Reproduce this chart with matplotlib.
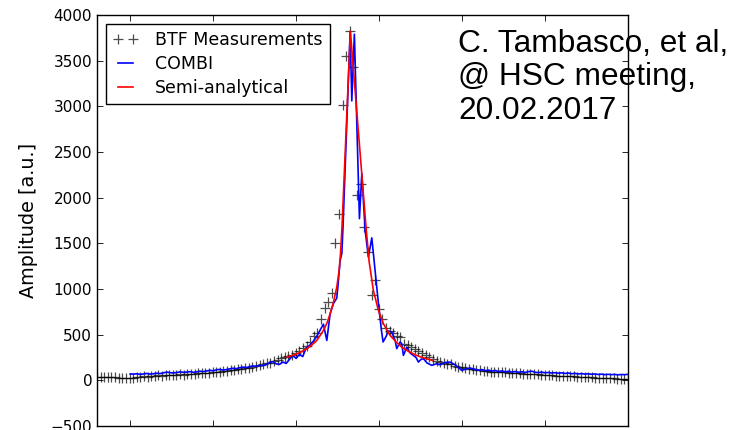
import numpy as np
import matplotlib
matplotlib.use("Agg")
import matplotlib.pyplot as plt

meas_x = np.linspace(-0.4, 6.0, 148)
meas_y = [36, 38, 35, 40, 37, 40, 25, 22, 25, 28,
          30, 40, 35, 45, 40, 50, 48, 55, 52, 58,
          55, 60, 62, 65, 63, 70, 68, 72, 75, 78,
          80, 85, 88, 90, 95, 100, 105, 110, 115, 120,
          128, 135, 140, 150, 158, 165, 175, 185, 195, 210,
          225, 245, 255, 265, 273, 295, 320, 350, 372, 419,
          481, 514, 667, 788, 853, 952, 1505, 1825, 3010, 3555,
          3820, 3430, 2025, 2145, 1680, 1400, 930, 1094, 777, 667,
          569, 540, 514, 490, 470, 400, 383, 365, 340, 320,
          298, 280, 255, 235, 210, 200, 190, 180, 175, 160,
          150, 145, 135, 128, 120, 115, 110, 104, 98, 95,
          93, 91, 88, 86, 84, 80, 78, 76, 73, 70,
          68, 66, 64, 62, 60, 55, 53, 50, 48, 46,
          45, 43, 42, 40, 38, 36, 34, 32, 30, 28,
          25, 24, 22, 21, 20, 18, 17, 15]

# COMBI simulation
combi_left_x = np.arange(0.0, 2.21, 0.04)
combi_left_y = [70, 68, 72, 65, 70, 75, 68, 72, 78, 74,
                82, 90, 84, 80, 86, 92, 88, 90, 95, 88,
                92, 100, 96, 102, 110, 104, 115, 120, 112, 118,
                126, 132, 128, 138, 145, 140, 150, 158, 152, 165,
                160, 172, 195, 205, 180, 175, 200, 185, 230, 270,
                240, 285, 260, 355, 380, 420]
combi_peak_x = [2.241, 2.289, 2.329, 2.370, 2.410, 2.449, 2.490, 2.506, 2.530, 2.551,
                2.566, 2.651, 2.671, 2.702, 2.763, 2.792, 2.831, 2.871, 2.912, 2.952,
                2.992, 3.028, 3.048, 3.084, 3.112, 3.153, 3.193, 3.213, 3.253, 3.273,
                3.293, 3.334, 3.373, 3.413, 3.446, 3.473, 3.506, 3.534, 3.578, 3.635,
                3.695, 3.735, 3.795, 3.855, 3.916, 3.996, 4.048, 4.096]
combi_peak_y = [470, 550, 615, 437, 730, 840, 900, 1050, 1310, 1390,
                1700, 3820, 3060, 3790, 1770, 2265, 1650, 1350, 1560, 1200,
                840, 547, 420, 480, 540, 528, 437, 347, 420, 401,
                273, 364, 300, 273, 250, 200, 230, 237, 190, 164,
                182, 170, 195, 200, 170, 109, 125, 135]
combi_right_x = np.arange(4.16, 6.001, 0.04)
combi_right_y = [120, 110, 118, 105, 112, 100, 108, 96, 104, 92,
                 100, 90, 97, 88, 94, 86, 95, 100, 88, 85,
                 90, 82, 86, 80, 84, 78, 82, 75, 80, 72,
                 76, 70, 74, 68, 72, 66, 70, 64, 68, 62,
                 66, 62, 65, 60, 64, 62, 66]

# semi-analytical curve
semi_x = [1.892, 1.964, 2.048, 2.129, 2.193, 2.249, 2.289, 2.329, 2.373, 2.410,
          2.449, 2.490, 2.518, 2.536, 2.554, 2.654, 2.843, 2.880, 2.931, 2.992,
          3.052, 3.133, 3.205, 3.277, 3.349, 3.434, 3.518, 3.639]
semi_y = [255, 275, 305, 347, 390, 437, 490, 547, 630, 730,
          850, 1021, 1200, 1400, 1700, 3820, 1670, 1300, 985, 766,
          620, 492, 420, 360, 320, 280, 250, 219]

combi_x = np.concatenate([combi_left_x, combi_peak_x, combi_right_x])
combi_y = np.concatenate([combi_left_y, combi_peak_y, combi_right_y])

plt.rcParams['font.family'] = ['DejaVu Sans']
fig = plt.figure(figsize=(7.42, 4.30), dpi=100)
ax = fig.add_axes([97 / 742, 1 - 426 / 430, 531 / 742, 411 / 430])

ax.plot(meas_x, meas_y, '+', color='k', alpha=0.7, markersize=7,
        markeredgewidth=0.9, label='BTF Measurements')
ax.plot(combi_x, combi_y, '-', color='#0000ff', lw=1.2, label='COMBI')
ax.plot(semi_x, semi_y, '-', color='#ff0000', lw=1.2, label='Semi-analytical')

ax.set_xlim(-0.4, 6.0)
ax.set_ylim(-500, 4000)
ax.set_xticks(range(0, 7))
ax.set_yticks(range(-500, 4001, 500))
ax.tick_params(direction='in', top=True, right=True, length=4, width=0.6,
               labelsize=11, labelbottom=False)
for s in ax.spines.values():
    s.set_linewidth(1.0)

ax.set_ylabel('Amplitude [a.u.]', fontsize=13.8)
ax.yaxis.set_label_coords(-0.112, 0.5)

leg = ax.legend(loc='upper left', fontsize=12.5, numpoints=2, fancybox=False,
                framealpha=1, edgecolor='k', handlelength=1.45,
                handletextpad=1.0, labelspacing=0.35, borderaxespad=0.5)
leg.get_frame().set_linewidth(1.0)

fig.text(458 / 742, 1 - 29 / 430, 'C. Tambasco, et al,\n@ HSC meeting,\n20.02.2017',
         family='Liberation Sans', fontsize=22.8, va='top', ha='left',
         linespacing=1.15)

fig.savefig('out.png', dpi=100)
